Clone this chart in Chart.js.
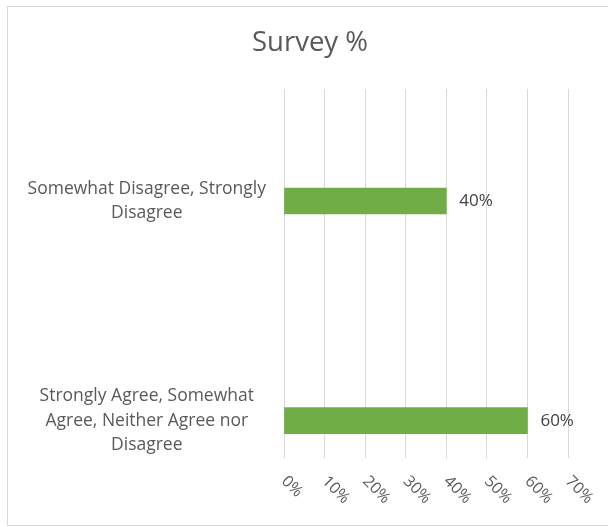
<!DOCTYPE html>
<html><head><meta charset="utf-8">
<script src="https://cdn.jsdelivr.net/npm/chart.js@4/dist/chart.umd.min.js"></script>
<style>
html,body{margin:0;padding:0;background:#fff;overflow:hidden;width:608px;height:527px;}
#wrap{position:absolute;left:0;top:0;width:620px;height:527px;}
#frame{position:absolute;left:7px;top:6px;width:640px;height:520px;border:1px solid #d9d9d9;border-right:0;box-sizing:border-box;pointer-events:none;}
</style></head><body>
<div id="wrap"><canvas id="c" width="620" height="527"></canvas></div>
<div id="frame"></div>
<script>
const chartTitle = "Survey %";
const categories = [
  ["Somewhat Disagree, Strongly", "Disagree"],
  ["Strongly Agree, Somewhat", "Agree, Neither Agree nor", "Disagree"]
];
const values = [40, 60];
const xTicks = [0, 10, 20, 30, 40, 50, 60, 70];

class SlantLinear extends Chart.LinearScale {
  static id = 'slantLinear';
  static defaults = Chart.LinearScale.defaults;
  _getXAxisLabelAlignment() { return 'left'; }
}
Chart.register(SlantLinear);

const valueLabels = {
  id: 'valueLabels',
  afterDatasetsDraw(chart) {
    const ctx = chart.ctx;
    const meta = chart.getDatasetMeta(0);
    ctx.save();
    ctx.font = '17px "Open Sans"';
    ctx.fillStyle = '#404040';
    ctx.textBaseline = 'middle';
    ctx.textAlign = 'left';
    meta.data.forEach((bar, i) => {
      ctx.fillText(values[i] + '%', bar.x + 13, bar.y);
    });
    ctx.restore();
  }
};

new Chart(document.getElementById('c'), {
  type: 'bar',
  data: {
    datasets: [{
      data: values.map((v, i) => ({ x: v, y: i })),
      backgroundColor: '#70ad47',
      borderWidth: 0,
      barThickness: 26
    }]
  },
  options: {
    indexAxis: 'y',
    responsive: false,
    animation: false,
    layout: { padding: { left: 7, right: 7, top: 0, bottom: 0 } },
    plugins: {
      legend: { display: false },
      tooltip: { enabled: false },
      title: {
        display: true,
        text: chartTitle,
        color: '#595959',
        font: { family: 'Open Sans', size: 27.5, weight: 'normal', lineHeight: 1.2 },
        padding: { top: 27, bottom: 29 }
      }
    },
    scales: {
      x: {
        type: 'slantLinear',
        position: 'bottom',
        min: 0, max: 70,
        afterBuildTicks: s => { s.ticks = xTicks.map(v => ({ value: v })); },
        afterFit: s => { s.height = 69; },
        grid: { color: '#d9d9d9', lineWidth: 1, drawTicks: false },
        border: { display: false },
        ticks: {
          minRotation: -45, maxRotation: -45, autoSkip: false,
          padding: 14, color: '#595959',
          font: { family: 'Open Sans', size: 16 },
          callback: v => v + '%'
        }
      },
      y: {
        type: 'linear',
        position: 'left',
        reverse: true,
        offset: false,
        min: -0.51, max: 1.17,
        afterBuildTicks: s => { s.ticks = categories.map((_, i) => ({ value: i })); },
        afterFit: s => { s.width = 277; },
        grid: { display: false, drawTicks: false },
        border: { display: false },
        ticks: {
          crossAlign: 'center', padding: 18, autoSkip: false,
          color: '#595959',
          font: { family: 'Open Sans', size: 17.5, lineHeight: 1.38 },
          callback: v => categories[v]
        }
      },
      rightGap: {
        type: 'linear',
        axis: 'y',
        position: 'right',
        afterFit: s => { s.width = 45; },
        grid: { display: false, drawTicks: false },
        border: { display: false },
        ticks: { display: false }
      }
    }
  },
  plugins: [valueLabels]
});
</script>
</body></html>
